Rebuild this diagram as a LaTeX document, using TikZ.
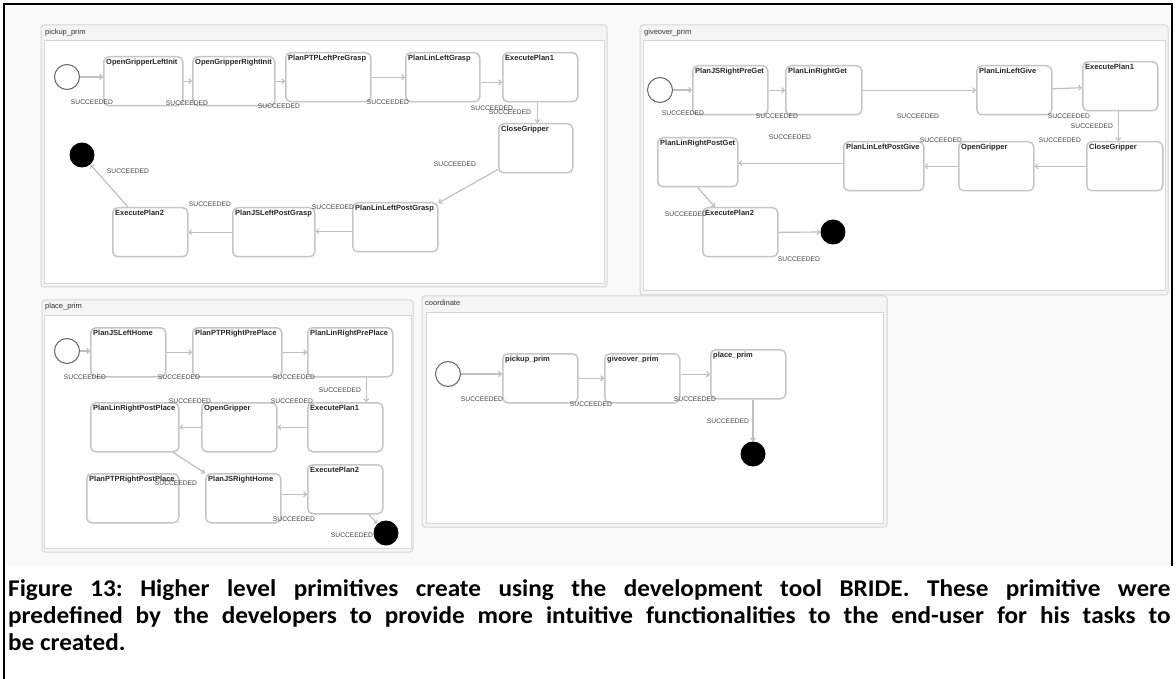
\documentclass[tikz,border=0pt]{standalone}
\usepackage{fontspec}
\setmainfont{Liberation Sans}
\newfontfamily\capfont{Carlito}
\usetikzlibrary{arrows.meta,positioning,calc}

\definecolor{boxline}{RGB}{198,198,198}
\definecolor{edgeline}{RGB}{192,192,192}
\definecolor{panelline}{RGB}{214,214,214}
\definecolor{panelfill}{RGB}{245,245,245}
\definecolor{shotbg}{RGB}{249,249,249}
\definecolor{evtext}{RGB}{70,70,70}

\tikzset{
	state/.style={draw=boxline, line width=1.5pt, rounded corners=5pt, fill=white,
		anchor=north west, minimum height=49pt, inner sep=0pt},
	stname/.style={anchor=north west, inner sep=3pt, text=black!85,
		font=\fontsize{7.5}{8}\selectfont\bfseries},
	initst/.style={circle, draw=black!60, line width=1pt, fill=white, minimum size=25pt, inner sep=0pt},
	finalst/.style={circle, fill=black, minimum size=25pt, inner sep=0pt},
	trans/.style={draw=edgeline, line width=1.2pt, -{Straight Barb[length=2.5pt,width=5pt]}},
	ev/.style={font=\fontsize{6.7}{7}\selectfont, text=evtext, inner sep=0pt},
	panel/.style={draw=panelline, fill=panelfill, line width=1pt, rounded corners=3pt},
	panelin/.style={draw=panelline, fill=white, line width=1pt},
	ptitle/.style={anchor=west, inner sep=0pt, font=\fontsize{7.5}{8}\selectfont, text=black!80},
}

\begin{document}
\begin{tikzpicture}[x=1pt, y=-1pt]
	\useasboundingbox (0,0) rectangle (1176,679);
	
	% screenshot background and page frame
	\fill[shotbg] (5,5) rectangle (1172,566);
	\draw[black, line width=1.2pt] (4,679) -- (4,4) -- (1172,4) -- (1172,566);
	
	% Panels (outer frame, inner frame, title)
	\draw[panel] (41,25) rectangle (607,287);
	\draw[panelin] (44,41) rectangle (604,284);
	\node[ptitle] (pkt) at (45,33) {pickup\_prim};
	
	\draw[panel] (640,25) rectangle (1168,295);
	\draw[panelin] (643,41) rectangle (1165,291);
	\node[ptitle] (gvt) at (644,33) {giveover\_prim};
	
	\draw[panel] (42,300) rectangle (413,552);
	\draw[panelin] (44,315) rectangle (411,548);
	\node[ptitle] (plt) at (45,307) {place\_prim};
	
	\draw[panel] (422,296) rectangle (887,527);
	\draw[panelin] (426,312) rectangle (883,523);
	\node[ptitle] (cot) at (425,303) {coordinate};
	
	% States
	\foreach \n/\x/\y/\w/\t in {
		pk1/103/56/79/OpenGripperLeftInit, pk2/192/56/82/OpenGripperRightInit,
		pk3/285/52/85/PlanPTPLeftPreGrasp, pk4/405/52/74/PlanLinLeftGrasp,
		pk5/502/52/75/ExecutePlan1, pk6/498/123/74/CloseGripper,
		pk7/352/202/85/PlanLinLeftPostGrasp, pk8/232/207/82/PlanJSLeftPostGrasp,
		pk9/112/207/75/ExecutePlan2,
		gv1/692/65/75/PlanJSRightPreGet, gv2/785/65/76/PlanLinRightGet,
		gv3/976/65/75/PlanLinLeftGive, gv4/1082/61/75/ExecutePlan1,
		gv5/1086/141/76/CloseGripper, gv6/958/141/75/OpenGripper,
		gv7/843/141/80/PlanLinLeftPostGive, gv8/657/137/80/PlanLinRightPostGet,
		gv9/702/207/75/ExecutePlan2,
		pl1/90/327/75/PlanJSLeftHome, pl2/192/327/89/PlanPTPRightPrePlace,
		pl3/307/327/85/PlanLinRightPrePlace, pl4/307/402/75/ExecutePlan1,
		pl5/201/402/75/OpenGripper, pl6/90/402/88/PlanLinRightPostPlace,
		pl7/86/473/92/PlanPTPRightPostPlace, pl8/205/473/75/PlanJSRightHome,
		pl9/307/464/75/ExecutePlan2,
		co1/502/353/75/pickup\_prim, co2/604/353/75/giveover\_prim,
		co3/710/349/75/place\_prim} {
		\node[state, minimum width=\w pt, label={[stname]north west:\t}] (\n) at (\x,\y) {};
	}
	
	% Initial and final states
	\node[initst] (pk0) at (67,77) {};
	\node[finalst] (pkf) at (82,155) {};
	\node[initst] (gv0) at (660,90) {};
	\node[finalst] (gvf) at (833,232) {};
	\node[initst] (pl0) at (67,351) {};
	\node[finalst] (plf) at (386,533) {};
	\node[initst] (co0) at (448,374) {};
	\node[finalst] (cof) at (753,454) {};
	
	% Transitions: pickup_prim
	\draw[trans] (pk0) -- (pk0 -| pk1.west);
	\draw[trans] (pk1.east) -- (pk1.east -| pk2.west);
	\draw[trans] (pk2.east) -- (pk2.east -| pk3.west);
	\draw[trans] (pk3.east) -- (pk3.east -| pk4.west);
	\draw[trans] ([yshift=-5pt]pk4.east) -- ([yshift=-5pt]pk4.east -| pk5.west);
	\draw[trans] ([xshift=-3pt]pk5.south) -- ([xshift=-3pt]pk5.south |- pk6.north);
	\draw[trans] (pk6) -- (pk7);
	\draw[trans] ([yshift=-4pt]pk7.west) -- ([yshift=-4pt]pk7.west -| pk8.east);
	\draw[trans] (pk8.west) -- (pk8.west -| pk9.east);
	\draw[trans] (pk9) -- (pkf);
	
	% Transitions: giveover_prim
	\draw[trans] (gv0) -- (gv0 -| gv1.west);
	\draw[trans] (gv1.east) -- (gv1.east -| gv2.west);
	\draw[trans] (gv2.east) -- (gv2.east -| gv3.west);
	\draw[trans] (gv3) -- (gv4);
	\draw[trans] ([xshift=-2pt]gv4.south) -- ([xshift=-2pt]gv4.south |- gv5.north);
	\draw[trans] (gv5.west) -- (gv5.west -| gv6.east);
	\draw[trans] (gv6.west) -- (gv6.west -| gv7.east);
	\draw[trans] ([yshift=3pt]gv7.west) -- ([yshift=3pt]gv7.west -| gv8.east);
	\draw[trans] (gv8.south) -- ([xshift=13pt]gv9.north west);
	\draw[trans] (gv9.east) -- (gvf);
	
	% Transitions: place_prim
	\draw[trans] (pl0) -- (pl0 -| pl1.west);
	\draw[trans] (pl1.east) -- (pl1.east -| pl2.west);
	\draw[trans] (pl2.east) -- (pl2.east -| pl3.west);
	\draw[trans] ([xshift=16pt]pl3.south) -- ([xshift=16pt]pl3.south |- pl4.north);
	\draw[trans] (pl4.west) -- (pl4.west -| pl5.east);
	\draw[trans] (pl5.west) -- (pl5.west -| pl6.east);
	\draw[trans] (pl6) -- (pl8);
	\draw[trans] ([yshift=4pt]pl8.east) -- ([yshift=4pt]pl8.east -| pl9.west);
	\draw[trans] (pl9) -- (plf);
	
	% Transitions: coordinate
	\draw[trans] (co0) -- (co0 -| co1.west);
	\draw[trans] (co1.east) -- (co1.east -| co2.west);
	\draw[trans] (co3.west -| co2.east) -- (co3.west);
	\draw[trans] (cof |- co3.south) -- (cof);
	
	% Transition labels
	\foreach \n/\x/\y in {
		pke1/92/102, pke2/187/103, pke3/279/106, pke4/388/102, pke5/492/108,
		pke6/510/112, pke7/455/164, pke8/333/207, pke9/210/204, pke10/128/171,
		gve1/683/113, gve2/777/116, gve3/918/116, gve4/1069/116, gve5/1092/126,
		gve6/1060/140, gve7/941/140, gve8/790/137, gve9/686/214, gve10/799/259,
		ple1/85/377, ple2/179/377, ple3/294/377, ple4/340/390, ple5/292/401,
		ple6/190/401, ple7/176/483, ple8/294/519, ple9/352/535,
		coe1/482/399, coe2/591/404, coe3/695/399, coe4/728/421} {
		\node[ev] (\n) at (\x,\y) {SUCCEEDED};
	}
	
	% Caption
	\node[anchor=north west, inner sep=0pt] (cap) at (8,579) {\scalebox{1.05}[1]{\parbox{1107pt}{%
		\capfont\bfseries\fontsize{24}{27}\selectfont\frenchspacing\hyphenpenalty=10000\emergencystretch=3em
		Figure 13: Higher level primitives create using the development tool BRIDE. These primitive were\linebreak
		predefined by the developers to provide more intuitive functionalities to the end-user for his tasks to\linebreak
		be created.}}};
\end{tikzpicture}
\end{document}
